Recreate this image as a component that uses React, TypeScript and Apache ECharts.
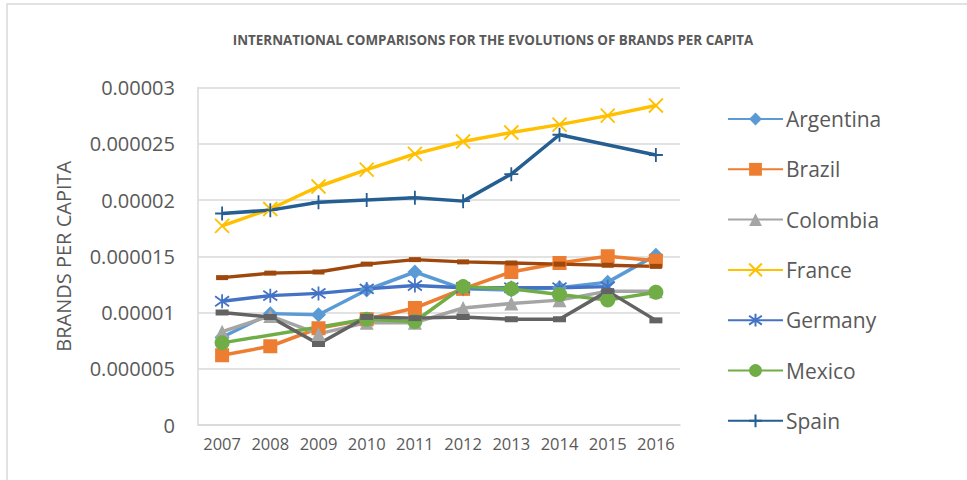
import React, { useEffect, useRef } from "react";
import * as echarts from "echarts";

const years = ["2007", "2008", "2009", "2010", "2011", "2012", "2013", "2014", "2015", "2016"];
const yTickLabels = ["0", "0.000005", "0.00001", "0.000015", "0.00002", "0.000025", "0.00003"];

const argentina = [0.78e-5, 0.99e-5, 0.98e-5, 1.2e-5, 1.36e-5, 1.21e-5, 1.2e-5, 1.22e-5, 1.27e-5, 1.51e-5];
const brazil = [0.62e-5, 0.7e-5, 0.86e-5, 0.94e-5, 1.04e-5, 1.21e-5, 1.36e-5, 1.44e-5, 1.5e-5, 1.46e-5];
const colombia = [0.83e-5, 0.97e-5, 0.81e-5, 0.91e-5, 0.91e-5, 1.04e-5, 1.08e-5, 1.11e-5, 1.19e-5, 1.19e-5];
const france = [1.77e-5, 1.92e-5, 2.12e-5, 2.27e-5, 2.41e-5, 2.52e-5, 2.6e-5, 2.67e-5, 2.75e-5, 2.84e-5];
const germany = [1.1e-5, 1.15e-5, 1.17e-5, 1.21e-5, 1.24e-5, 1.22e-5, 1.22e-5, 1.22e-5, 1.23e-5, null];
const mexico = [0.73e-5, null, null, 0.94e-5, 0.92e-5, 1.23e-5, 1.21e-5, 1.16e-5, 1.11e-5, 1.18e-5];
const spain = [1.88e-5, 1.91e-5, 1.98e-5, 2.0e-5, 2.02e-5, 1.99e-5, 2.23e-5, 2.58e-5, null, 2.4e-5];
const series8 = [1.31e-5, 1.35e-5, 1.36e-5, 1.43e-5, 1.47e-5, 1.45e-5, 1.44e-5, 1.43e-5, 1.42e-5, 1.41e-5];
const series9 = [1.0e-5, 0.96e-5, 0.72e-5, 0.96e-5, 0.95e-5, 0.96e-5, 0.94e-5, 0.94e-5, 1.19e-5, 0.93e-5];

const legendNames = ["Argentina", "Brazil", "Colombia", "France", "Germany", "Mexico", "Spain"];

const FONT = "'Open Sans', sans-serif";
const TXT = "#595959";

const X_PATH = "path://M0,0 L10,10 M10,0 L0,10";
const STAR_PATH = "path://M5,0 L5,10 M0.7,1.5 L9.3,8.5 M9.3,1.5 L0.7,8.5";
const PLUS_PATH = "path://M5,0 L5,10 M0,5 L10,5";

function mk(name: string, data: (number | null)[], color: string, symbol: string, size: any, stroke = false) {
  return {
    name,
    type: "line",
    data,
    connectNulls: true,
    symbol,
    symbolSize: size,
    showSymbol: true,
    lineStyle: { color, width: 3.5 },
    itemStyle: stroke
      ? { color: "rgba(0,0,0,0)", borderColor: color, borderWidth: 1.8 }
      : { color, borderColor: color, borderWidth: 0 },
    emphasis: { disabled: true },
    z: 2,
  };
}

export default function App() {
  const ref = useRef<HTMLDivElement>(null);
  useEffect(() => {
    document.body.style.margin = "0";
    const chart = echarts.init(ref.current!, null, { renderer: "svg" });
    chart.setOption({
      animation: false,
      backgroundColor: "#ffffff",
      textStyle: { fontFamily: FONT },
      title: {
        text: "INTERNATIONAL COMPARISONS FOR THE EVOLUTIONS OF BRANDS PER CAPITA",
        left: 493,
        textAlign: "center",
        top: 33,
        padding: 0,
        textStyle: { fontFamily: FONT, fontSize: 13.4, fontWeight: "bold", color: TXT },
      },
      graphic: [
        {
          type: "rect",
          shape: { x: 7, y: 4, width: 1000, height: 520 },
          style: { fill: "none", stroke: "#d9d9d9", lineWidth: 1.5 },
          z: -10,
          silent: true,
        },
      ],
      legend: {
        data: legendNames,
        orient: "vertical",
        left: 727,
        top: 108,
        padding: 0,
        itemWidth: 55,
        itemHeight: 16,
        itemGap: 28.3,
        textStyle: { fontFamily: FONT, fontSize: 21, color: TXT, lineHeight: 22, padding: [0, 0, 0, -2] },
      },
      grid: { left: 198, right: 287, top: 87.5, bottom: 55, containLabel: false },
      xAxis: {
        type: "category",
        data: years,
        boundaryGap: true,
        axisLine: { show: true, lineStyle: { color: "#d9d9d9", width: 1.5 } },
        axisTick: { show: false },
        axisLabel: { fontFamily: FONT, fontSize: 16.5, color: TXT, margin: 10, interval: 0, hideOverlap: false },
        splitLine: { show: false },
      },
      yAxis: {
        type: "value",
        min: 0,
        max: 3e-5,
        interval: 5e-6,
        name: "BRANDS PER CAPITA",
        nameLocation: "middle",
        nameRotate: 90,
        nameGap: 125,
        nameTextStyle: { fontFamily: FONT, fontSize: 20, color: TXT },
        axisLine: { show: true, lineStyle: { color: "#d9d9d9", width: 1.5 } },
        axisTick: { show: false },
        axisLabel: {
          fontFamily: FONT,
          fontSize: 20,
          color: TXT,
          margin: 23,
          formatter: (v: number) => yTickLabels[Math.round(v / 5e-6)] ?? "",
        },
        splitLine: { lineStyle: { color: "#d9d9d9", width: 1.5 } },
      },
      series: [
        mk("Argentina", argentina, "#5B9BD5", "diamond", 15),
        mk("Brazil", brazil, "#ED7D31", "rect", 14),
        mk("Colombia", colombia, "#A5A5A5", "triangle", 14),
        mk("France", france, "#FFC000", X_PATH, 14, true),
        mk("Germany", germany, "#4472C4", STAR_PATH, 14, true),
        mk("Mexico", mexico, "#70AD47", "circle", 15),
        mk("Spain", spain, "#255E91", PLUS_PATH, 14, true),
        mk("Series 8", series8, "#9E480E", "rect", [12, 5]),
        mk("Series 9", series9, "#636363", "rect", [13, 6]),
      ],
    });
    return () => chart.dispose();
  }, []);
  return <div ref={ref} style={{ width: 967, height: 480 }} />;
}
